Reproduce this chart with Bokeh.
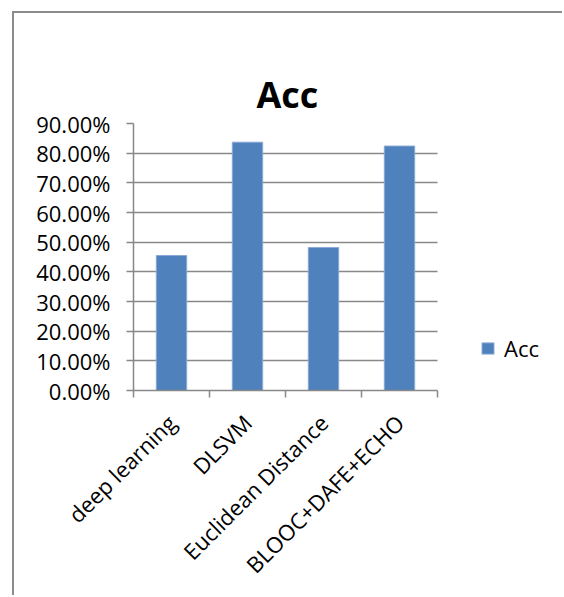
import math
from bokeh.plotting import figure
from bokeh.models import (Range1d, FixedTicker, NumeralTickFormatter, Title,
                          LinearAxis, Legend, LegendItem, ColumnDataSource)
from bokeh.embed import file_html
from bokeh.resources import INLINE

# Accuracy of each method
methods = ["deep learning", "DLSVM", "Euclidean Distance", "BLOOC+DAFE+ECHO"]
acc = [0.455, 0.837, 0.482, 0.824]
series_name = "Acc"
y_ticks = [0.0, 0.1, 0.2, 0.3, 0.4, 0.5, 0.6, 0.7, 0.8, 0.9]

FONT = "Open Sans"
GRAY = "#888888"
BAR = "#4F81BD"

# canvas geometry (px): plot area 304 px wide, frame runs on to the right edge
W, H = 550, 584
LEFT, TOP, BOTTOM = 119, 110, 207
AREA_W = 304

# one unit slot per method; bars sit at slot centres, ticks at slot edges
n = len(methods)
centres = [i + 0.5 for i in range(n)]
edges = list(range(n + 1))
src = ColumnDataSource(dict(x=centres, top=acc, method=methods))

x_end = n * (W - LEFT) / AREA_W

p = figure(
    x_range=Range1d(0, x_end),
    y_range=Range1d(0, 0.9),
    width=W, height=H,
    min_border_left=LEFT, min_border_right=0,
    min_border_top=TOP, min_border_bottom=BOTTOM,
    x_axis_location=None,
    output_backend="svg", toolbar_location=None,
    title=None,
    margin=(11, 0, 0, 12),
    styles={"border-left": "2px solid #8c8c8c", "border-top": "2px solid #8c8c8c"},
)

p.background_fill_color = "white"
p.border_fill_color = "white"
p.outline_line_color = None

# heading (items above the plot stack top to bottom in the order added)
p.add_layout(Title(text=series_name, align="left", offset=123, standoff=10,
                   text_font=FONT, text_font_size="36px", text_font_style="bold",
                   text_color="black"), "above")

# blank strip between the heading and the plot area
gap = LinearAxis(ticker=FixedTicker(ticks=[]))
gap.axis_line_color = None
gap.major_tick_line_color = None
gap.minor_tick_line_color = None
gap.major_tick_out = 38
gap.major_tick_in = 0
gap.minor_tick_out = 0
gap.major_label_standoff = 0
gap.major_label_text_font_size = "0px"
p.add_layout(gap, "above")

# bars
r = p.vbar(x="x", top="top", source=src, width=0.4, fill_color=BAR,
           line_color="#8aa9d4", line_width=1)

# y axis
ya = p.yaxis[0]
ya.ticker = FixedTicker(ticks=y_ticks)
ya.formatter = NumeralTickFormatter(format="0.00%")
ya.axis_line_color = GRAY
ya.axis_line_width = 1.5
ya.major_tick_line_color = GRAY
ya.major_tick_line_width = 1.5
ya.major_tick_out = 7
ya.major_tick_in = 0
ya.minor_tick_line_color = None
ya.major_label_standoff = 16
ya.major_label_text_font = FONT
ya.major_label_text_font_size = "22px"
ya.major_label_text_color = "black"

# horizontal gridlines over the plot area only
grid = p.ygrid[0]
if "cross_bounds" in grid.properties():
    grid.ticker = FixedTicker(ticks=y_ticks)
    grid.cross_bounds = (0, n)
    grid.grid_line_color = GRAY
    grid.grid_line_width = 1.5
else:
    grid.visible = False
    p.segment(x0=0, x1=n, y0=y_ticks, y1=y_ticks, line_color=GRAY, line_width=1.5)
p.xgrid.visible = False

# slot boundary ticks along the bottom
edge_axis = LinearAxis(ticker=FixedTicker(ticks=edges), bounds=(0, n),
                       major_label_overrides={t: "" for t in edges})
edge_axis.axis_line_color = GRAY
edge_axis.axis_line_width = 1.5
edge_axis.major_tick_line_color = GRAY
edge_axis.major_tick_line_width = 1.5
edge_axis.major_tick_out = 7
edge_axis.major_tick_in = 0
edge_axis.minor_tick_line_color = None
edge_axis.major_label_text_font_size = "0px"
edge_axis.major_label_standoff = 0
p.add_layout(edge_axis, "below")

# method names, rotated, under each slot centre
cat_axis = LinearAxis(ticker=FixedTicker(ticks=centres),
                      major_label_overrides={c: m for c, m in zip(centres, methods)})
cat_axis.axis_line_color = None
cat_axis.major_tick_line_color = None
cat_axis.minor_tick_line_color = None
cat_axis.major_tick_out = 0
cat_axis.major_tick_in = 0
cat_axis.major_label_orientation = math.pi / 4
cat_axis.major_label_standoff = 21
cat_axis.major_label_text_font = FONT
cat_axis.major_label_text_font_size = "22px"
cat_axis.major_label_text_color = "black"
p.add_layout(cat_axis, "below")

# legend to the right of the plot area
legend = Legend(items=[LegendItem(label=series_name, renderers=[r])],
                location=(347, 27))
legend.border_line_color = None
legend.background_fill_alpha = 0
legend.padding = 0
legend.margin = 0
legend.glyph_width = 15
legend.glyph_height = 14
legend.label_standoff = 9
legend.label_text_font = FONT
legend.label_text_font_size = "22px"
legend.label_text_color = "black"
p.add_layout(legend, "center")

open("out.html", "w").write(file_html(p, INLINE))
